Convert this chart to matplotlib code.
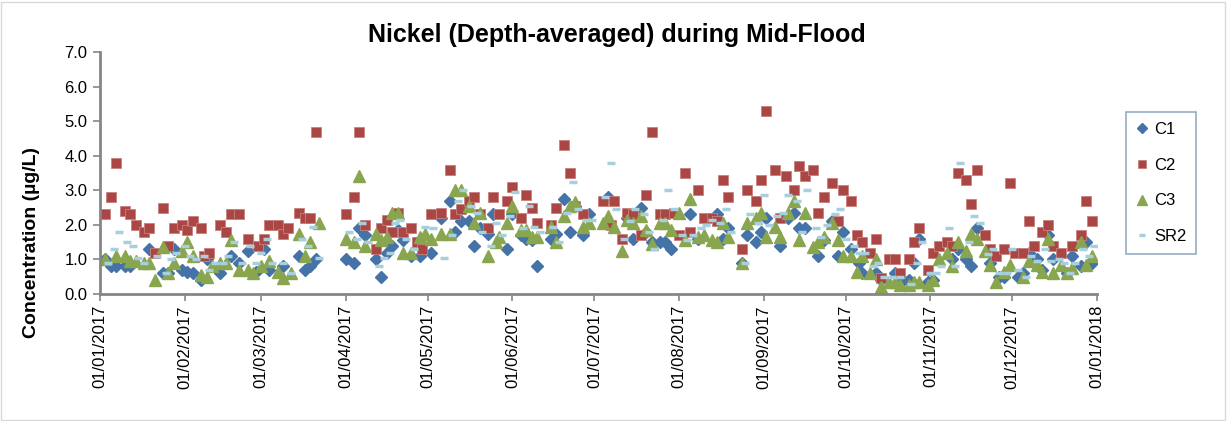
import numpy as np
import matplotlib
matplotlib.use('Agg')
import matplotlib.pyplot as plt
import matplotlib.dates as mdates
from matplotlib.patches import Rectangle

# 日付は2017/01/01からの経過日数
c1_day = [2, 4, 6, 9, 11, 18, 23, 25, 27, 30, 32, 34, 37, 39, 44, 48, 51, 54, 57, 60,
          62, 67, 73, 75, 77, 79, 90, 93, 95, 97, 101, 103, 105, 107, 109, 111, 114, 117, 121, 125,
          128, 130, 132, 135, 137, 139, 142, 144, 149, 151, 154, 156, 158, 160, 165, 167, 170, 172, 174, 177,
          179, 186, 193, 195, 198, 200, 202, 205, 207, 209, 216, 219, 226, 228, 230, 235, 237, 240, 242, 244,
          249, 252, 254, 256, 258, 263, 265, 268, 270, 272, 275, 278, 279, 284, 286, 291, 294, 296, 298, 300,
          303, 305, 312, 314, 317, 319, 321, 326, 329, 331, 336, 338, 340, 343, 345, 347, 349, 354, 356, 359,
          361, 363]
c1_val = [1.0, 0.8, 0.8, 0.8, 0.8, 1.3, 0.6, 0.6, 1.3, 0.7, 0.65, 0.6, 0.4, 1.0, 0.6, 1.1, 0.9, 1.25, 0.65, 1.3,
          0.7, 0.8, 1.1, 0.7, 0.8, 1.0, 1.0, 0.9, 1.9, 1.7, 1.0, 0.5, 1.2, 1.4, 1.85, 1.55, 1.1, 1.1, 1.2, 2.2,
          2.7, 1.8, 2.1, 2.1, 1.4, 1.9, 1.75, 2.3, 1.3, 2.3, 1.7, 1.6, 1.55, 0.8, 1.6, 1.75, 2.75, 1.8, 2.55, 1.7,
          2.3, 2.8, 2.2, 1.6, 2.5, 1.8, 1.5, 1.5, 1.5, 1.3, 2.3, 1.6, 2.3, 1.6, 1.9, 0.9, 1.7, 1.5, 1.8, 2.2,
          1.4, 2.2, 2.35, 1.9, 1.9, 1.1, 1.55, 2.1, 1.1, 1.8, 1.3, 0.9, 0.6, 0.6, 0.4, 0.6, 0.4, 0.4, 0.9, 1.6,
          0.35, 0.4, 1.0, 1.3, 1.0, 0.8, 1.9, 0.9, 0.5, 0.5, 0.5, 0.6, 1.2, 1.0, 0.7, 1.7, 1.0, 0.6, 1.1, 0.8,
          1.5, 0.9]

c2_day = [2, 4, 6, 9, 11, 13, 16, 18, 20, 23, 25, 27, 30, 32, 34, 37, 38, 40, 44, 46,
          48, 51, 54, 58, 60, 62, 65, 67, 69, 73, 75, 77, 79, 90, 93, 95, 97, 101, 103, 105,
          107, 109, 111, 114, 116, 118, 121, 125, 128, 130, 132, 135, 137, 139, 142, 144, 146, 149, 151, 154,
          156, 158, 160, 165, 167, 170, 172, 174, 177, 184, 187, 188, 191, 193, 195, 198, 200, 202, 205, 207,
          210, 212, 214, 216, 219, 221, 224, 226, 228, 230, 235, 237, 240, 242, 244, 247, 249, 251, 254, 256,
          258, 261, 263, 265, 268, 270, 272, 275, 277, 279, 282, 284, 286, 289, 291, 293, 296, 298, 300, 303,
          305, 307, 310, 312, 314, 317, 319, 321, 324, 326, 328, 331, 333, 335, 338, 340, 342, 345, 347, 349,
          352, 356, 359, 361, 363]
c2_val = [2.3, 2.8, 3.8, 2.4, 2.3, 2.0, 1.8, 1.9, 1.2, 2.5, 1.4, 1.9, 2.0, 1.85, 2.1, 1.9, 1.1, 1.2, 2.0, 1.8,
          2.3, 2.3, 1.6, 1.4, 1.6, 2.0, 2.0, 1.75, 1.9, 2.35, 2.2, 2.2, 4.7, 2.3, 2.8, 4.7, 2.0, 1.3, 1.9, 2.15,
          1.8, 2.35, 1.8, 1.9, 1.5, 1.3, 2.3, 2.35, 3.6, 2.3, 2.45, 2.7, 2.8, 2.3, 1.9, 2.8, 2.3, 2.7, 3.1, 2.2,
          2.85, 2.5, 2.05, 2.0, 2.5, 4.3, 3.5, 2.55, 2.3, 2.7, 2.0, 2.7, 1.6, 2.35, 2.3, 1.7, 2.85, 4.7, 2.3, 2.3,
          2.35, 1.7, 3.5, 1.8, 3.0, 2.2, 2.2, 2.1, 3.3, 2.8, 1.3, 3.0, 2.7, 3.3, 5.3, 3.6, 2.2, 3.4, 3.0, 3.7,
          3.4, 3.6, 2.35, 2.8, 3.2, 2.1, 3.0, 2.7, 1.7, 1.5, 1.2, 1.6, 0.45, 1.0, 1.0, 0.6, 1.0, 1.5, 1.9, 0.7,
          1.2, 1.4, 1.5, 1.4, 3.5, 3.3, 2.6, 3.6, 1.7, 1.3, 1.1, 1.3, 3.2, 1.2, 1.2, 2.1, 1.4, 1.8, 2.0, 1.4,
          1.2, 1.4, 1.7, 2.7, 2.1]

c3_day = [2, 6, 9, 11, 13, 16, 18, 20, 23, 25, 27, 30, 32, 34, 37, 39, 41, 44, 46, 48,
          51, 54, 56, 59, 62, 65, 67, 70, 73, 75, 77, 80, 90, 93, 95, 97, 101, 103, 105, 107,
          109, 111, 114, 117, 119, 121, 125, 128, 130, 132, 135, 137, 139, 142, 145, 146, 149, 151, 154, 156,
          158, 160, 165, 167, 170, 172, 174, 177, 179, 184, 186, 188, 191, 193, 195, 198, 200, 202, 205, 207,
          209, 212, 214, 216, 219, 221, 224, 226, 228, 230, 235, 237, 240, 242, 244, 247, 249, 252, 254, 256,
          258, 261, 263, 265, 268, 270, 272, 275, 277, 279, 282, 284, 286, 289, 291, 293, 296, 298, 300, 303,
          305, 307, 310, 312, 314, 317, 319, 321, 324, 326, 328, 331, 333, 338, 340, 343, 345, 347, 349, 352,
          354, 356, 359, 361, 363]
c3_val = [1.0, 1.1, 1.1, 0.95, 0.95, 0.9, 0.9, 0.4, 1.35, 0.6, 0.9, 1.25, 1.5, 1.1, 0.55, 0.5, 0.8, 0.9, 0.9, 1.55,
          0.7, 0.7, 0.6, 0.8, 0.95, 0.65, 0.45, 0.6, 1.75, 1.1, 1.5, 2.05, 1.6, 1.5, 3.4, 1.4, 1.75, 1.55, 1.65, 2.35,
          2.35, 1.2, 1.2, 1.65, 1.75, 1.6, 1.75, 1.75, 3.0, 3.0, 2.55, 2.05, 2.35, 1.1, 1.5, 1.65, 2.05, 2.55, 1.85, 1.85,
          1.65, 1.65, 1.95, 1.5, 2.25, 2.55, 2.65, 1.95, 2.05, 2.05, 2.25, 1.95, 1.25, 2.15, 2.05, 2.25, 1.85, 1.45, 2.05, 2.05,
          1.85, 2.35, 1.55, 2.75, 1.65, 1.7, 1.55, 1.5, 2.05, 1.65, 0.9, 2.05, 2.2, 2.35, 1.65, 1.95, 1.65, 2.35, 2.7, 1.55,
          2.35, 1.35, 1.5, 1.65, 2.05, 1.55, 1.1, 1.1, 0.65, 1.1, 0.6, 1.0, 0.2, 0.35, 0.35, 0.25, 0.25, 0.35, 0.35, 0.25,
          0.4, 1.0, 1.2, 0.8, 1.5, 1.25, 1.75, 1.6, 1.25, 0.85, 0.35, 0.65, 0.85, 0.5, 0.95, 0.85, 0.65, 1.6, 0.6, 0.85,
          0.6, 0.75, 1.5, 0.85, 1.1]

sr2_day = [3, 5, 7, 10, 12, 14, 16, 21, 24, 26, 28, 31, 33, 35, 38, 40, 42, 45, 47, 49,
           52, 55, 57, 59, 61, 63, 67, 70, 74, 76, 78, 80, 91, 94, 96, 98, 102, 104, 106, 108,
           110, 112, 115, 119, 122, 126, 129, 131, 133, 136, 138, 140, 143, 145, 147, 150, 152, 155, 157, 159,
           161, 166, 168, 171, 173, 175, 178, 180, 185, 187, 189, 192, 194, 196, 199, 201, 203, 206, 208, 210,
           213, 215, 217, 220, 222, 224, 227, 229, 231, 236, 238, 241, 243, 245, 248, 250, 252, 255, 257, 259,
           262, 264, 266, 269, 271, 273, 276, 278, 280, 283, 285, 287, 290, 293, 297, 299, 301, 304, 306, 308,
           311, 313, 315, 318, 320, 322, 325, 327, 329, 332, 334, 336, 339, 341, 343, 346, 348, 351, 353, 355,
           357, 360, 362, 364]
sr2_val = [0.9, 1.3, 1.8, 1.5, 1.4, 1.05, 0.9, 1.1, 0.6, 1.0, 1.2, 1.4, 1.1, 1.0, 1.1, 0.7, 0.9, 0.9, 1.1, 1.5,
           0.9, 1.4, 0.9, 1.2, 1.6, 0.9, 0.9, 0.6, 1.6, 1.4, 1.95, 1.05, 1.8, 1.6, 2.05, 1.5, 0.8, 1.05, 1.2, 2.05,
           2.15, 1.6, 1.3, 1.95, 1.9, 1.05, 1.7, 2.7, 3.0, 2.55, 2.35, 1.8, 1.4, 2.05, 1.7, 2.25, 2.95, 1.9, 2.55, 1.95,
           1.8, 1.95, 1.5, 2.35, 3.25, 2.45, 2.15, 2.15, 2.8, 3.8, 2.45, 1.6, 2.1, 2.45, 2.3, 1.8, 1.3, 2.15, 3.0, 2.45,
           1.7, 1.55, 1.7, 1.9, 2.0, 2.15, 2.05, 2.45, 1.8, 0.9, 2.3, 2.05, 2.85, 2.0, 2.25, 2.35, 2.85, 2.7, 1.8, 3.0,
           1.9, 1.65, 2.0, 2.3, 2.45, 1.6, 1.4, 1.2, 1.2, 0.8, 0.9, 0.5, 0.5, 0.5, 0.3, 0.9, 1.5, 0.6, 0.6, 0.8,
           1.9, 0.8, 3.8, 1.5, 2.25, 2.05, 1.15, 1.3, 0.6, 0.6, 1.3, 0.7, 0.5, 1.1, 0.95, 1.3, 0.95, 1.0, 0.9, 0.6,
           0.9, 1.3, 1.1, 1.4]

series_names = ['C1', 'C2', 'C3', 'SR2']
title = 'Nickel (Depth-averaged) during Mid-Flood'
ylabel = 'Concentration (µg/L)'

start = np.datetime64('2017-01-01')


def to_dates(days):
    return (start + np.array(days).astype('timedelta64[D]')).astype('datetime64[ms]').astype(object)


plt.rcParams['font.family'] = ['Liberation Sans', 'DejaVu Sans']

fig = plt.figure(figsize=(12.27, 4.21), dpi=100)
ax = fig.add_axes([100 / 1227, 127 / 421, 997 / 1227, 242 / 421])

# 系列ごとのマーカー
ax.plot(to_dates(c1_day), c1_val, ls='none', marker='D', ms=6, color='#4572A7', mec='#4572A7', label=series_names[0])
ax.plot(to_dates(c2_day), c2_val, ls='none', marker='s', ms=7.5, color='#AA4643', mec='#C9807E', mew=0.6, label=series_names[1])
ax.plot(to_dates(c3_day), c3_val, ls='none', marker='^', ms=8.5, color='#89A54E', mec='#89A54E', label=series_names[2])
ax.plot(to_dates(sr2_day), sr2_val, ls='none', marker='_', ms=6, mew=2.5, color='#A7CFDD', label=series_names[3])

# 軸の範囲と目盛
ax.set_xlim(to_dates([0])[0], to_dates([365])[0])
ax.set_ylim(0, 7)
ax.set_yticks(np.arange(0, 7.5, 1.0))
ax.yaxis.set_major_formatter(matplotlib.ticker.FormatStrFormatter('%.1f'))
ax.xaxis.set_major_locator(mdates.MonthLocator())
ax.xaxis.set_major_formatter(mdates.DateFormatter('%d/%m/%Y'))

for lab in ax.get_xticklabels():
    lab.set_rotation(90)
ax.tick_params(axis='x', labelsize=12, length=5, width=1.2, color='#868686', pad=3)
ax.tick_params(axis='y', labelsize=12, length=5, width=1.2, color='#868686', pad=4)

for s in ['top', 'right']:
    ax.spines[s].set_visible(False)
for s in ['left', 'bottom']:
    ax.spines[s].set_color('#868686')
    ax.spines[s].set_linewidth(2)

fig.text(617 / 1227, 1 - 35 / 421, title, ha='center', va='center', fontsize=18, fontweight='bold')
fig.text(32 / 1227, 1 - 243 / 421, ylabel, ha='center', va='center', rotation=90, fontsize=14, fontweight='bold')

leg = ax.legend(loc='center', bbox_to_anchor=(1161 / 1227, 1 - 183 / 421), bbox_transform=fig.transFigure,
                fontsize=12, frameon=True, fancybox=False, labelspacing=1.25, handletextpad=0.3,
                handlelength=0.8, borderpad=0.6, borderaxespad=0, markerscale=0.8)
leg.get_frame().set_edgecolor('#7A96B8')
leg.get_frame().set_linewidth(1.2)

# 外枠
fig.patches.append(Rectangle((1 / 1227, 1 / 421), 1224 / 1227, 418 / 421, transform=fig.transFigure,
                             fill=False, edgecolor='#D9D9D9', lw=1))

fig.savefig('out.png', dpi=100)
